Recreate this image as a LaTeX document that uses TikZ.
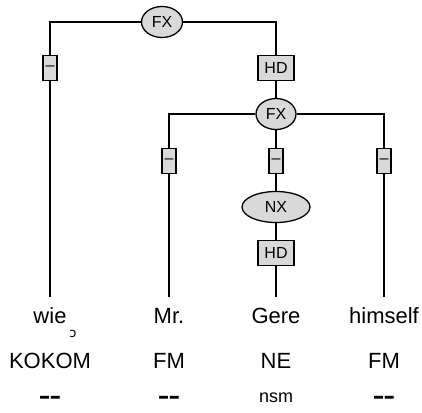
\documentclass[tikz,border=0pt]{standalone}
\usepackage{fontspec}
\setmainfont{Liberation Sans}
\newfontfamily\ipafont{DejaVu Sans}
\definecolor{nodegray}{RGB}{217,217,217}
\tikzset{
  phrasenode/.style={ellipse, draw, fill=nodegray, line width=1.3pt, inner sep=0pt,
    minimum height=31pt, font=\fontsize{16}{18}\selectfont},
  funcnode/.style={rectangle, draw, fill=nodegray, line width=1.3pt, inner sep=0pt,
    minimum width=14pt, minimum height=25pt, font=\fontsize{16}{18}\selectfont},
  headnode/.style={funcnode, minimum width=36pt},
  wordnode/.style={anchor=base, inner xsep=0pt, inner ysep=9pt, text height=16pt, text depth=5pt,
    font=\fontsize{22}{24}\selectfont},
  tagnode/.style={anchor=base, inner sep=0pt, font=\fontsize{22}{24}\selectfont},
  dashnode/.style={anchor=base, inner sep=0pt, font=\fontsize{18}{20}\selectfont\bfseries},
  morphnode/.style={anchor=base, inner sep=0pt, font=\fontsize{18}{20}\selectfont}
}
\newcommand{\nomorph}{\scalebox{1}[1.6]{–\kern0.8pt–}}
\usetikzlibrary{shapes.geometric}
\begin{document}
\begin{tikzpicture}[x=1pt, y=-1pt, line width=1.2pt]
  \useasboundingbox (0,0) rectangle (422,412);
  % Knoten des Baums
  \node[phrasenode, minimum width=41pt] (fxtop) at (162,22) {FX};
  \node[funcnode] (fwie) at (50,68) {–};
  \node[headnode] (hdtop) at (276,68) {HD};
  \node[phrasenode, minimum width=40pt] (fxmid) at (276,114) {FX};
  \node[funcnode] (fmr) at (169,161) {–};
  \node[funcnode] (fgere) at (276,161) {–};
  \node[funcnode] (fhim) at (384,161) {–};
  \node[phrasenode, minimum width=68pt] (nx) at (276,207) {NX};
  \node[headnode] (hdgere) at (276,253) {HD};

  % Woerter, Tags, Morphologie
  \node[wordnode] (wie) at (50,323) {wie};
  \node[wordnode] (mr) at (169,323) {Mr.};
  \node[wordnode] (gere) at (276,323) {Gere};
  \node[wordnode] (him) at (384,323) {himself};
  \node[anchor=center, inner sep=0pt, font=\ipafont\fontsize{13}{13}\selectfont] (mark) at (73,334) {ɔ};

  \node[tagnode] (twie) at (50,368) {KOKOM};
  \node[tagnode] (tmr) at (169,368) {FM};
  \node[tagnode] (tgere) at (276,368) {NE};
  \node[tagnode] (thim) at (384,368) {FM};

  \node[dashnode] (mwie) at (50,405) {\nomorph};
  \node[dashnode] (mmr) at (169,405) {\nomorph};
  \node[morphnode] (mgere) at (276,402) {nsm};
  \node[dashnode] (mhim) at (384,405) {\nomorph};

  % Kanten
  \draw (fxtop) -| (fwie);
  \draw (fxtop) -| (hdtop);
  \draw (fwie) -- (wie);
  \draw (hdtop) -- (fxmid);
  \draw (fxmid) -| (fmr);
  \draw (fxmid) -- (fgere);
  \draw (fxmid) -| (fhim);
  \draw (fmr) -- (mr);
  \draw (fgere) -- (nx);
  \draw (nx) -- (hdgere);
  \draw (hdgere) -- (gere);
  \draw (fhim) -- (him);
\end{tikzpicture}
\end{document}
